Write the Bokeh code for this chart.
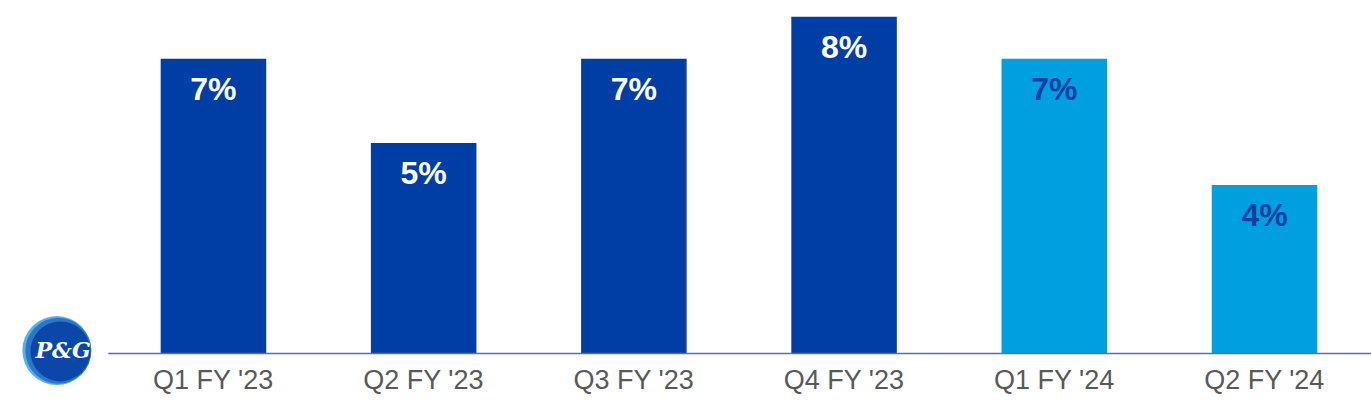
from bokeh.plotting import figure
from bokeh.models import ColumnDataSource, Range1d
from bokeh.core.properties import value
from bokeh.embed import file_html
from bokeh.resources import INLINE

quarters = ["Q1 FY '23", "Q2 FY '23", "Q3 FY '23", "Q4 FY '23", "Q1 FY '24", "Q2 FY '24"]
growth = [7, 5, 7, 8, 7, 4]
labels = ["7%", "5%", "7%", "8%", "7%", "4%"]

DARK = "#003DA5"
LIGHT = "#009FDF"
bar_colors = [DARK, DARK, DARK, DARK, LIGHT, LIGHT]
label_colors = ["#FFFFFF", "#FFFFFF", "#FFFFFF", "#FFFFFF", "#0B3FA6", "#0B3FA6"]

xs = list(range(len(quarters)))
src = ColumnDataSource(dict(x=xs, top=growth, lab=labels, cat=quarters,
                            fill=bar_colors, tcol=label_colors, zero=[0] * len(xs)))

p = figure(width=1371, height=403, output_backend="svg", toolbar_location=None,
           x_range=Range1d(-1.013, 5.509), y_range=Range1d(-1.188, 8.385),
           min_border=0, min_border_left=0, min_border_right=0,
           min_border_top=0, min_border_bottom=0)
p.xaxis.visible = False
p.yaxis.visible = False
p.grid.visible = False
p.outline_line_color = None
p.background_fill_color = "white"
p.border_fill_color = "white"

p.vbar(x="x", top="top", bottom=0, width=0.502, fill_color="fill", line_color=None, source=src)

# baseline
p.segment(x0=[-0.5], y0=[0], x1=[5.509], y1=[0], line_color="#5A6EA8", line_width=1.3)

# value labels
p.text(x="x", y="top", text="lab", text_color="tcol", source=src,
       text_font=value("Liberation Sans"), text_font_style="bold",
       text_font_size="32px", text_align="center", text_baseline="middle", y_offset=30)

# category labels
p.text(x="x", y="zero", text="cat", source=src, text_color="#595959",
       text_font=value("Liberation Sans"), text_font_size="27px",
       text_align="center", text_baseline="middle", y_offset=27)

# P&G logo (decoration)
p.scatter(x=[-0.745], y=[0.07], size=69, marker="circle", fill_color="#5AB0E8", line_color=None)
p.scatter(x=[-0.738], y=[0.065], size=66, marker="circle", fill_color="#2C76C9", line_color=None)
p.scatter(x=[-0.728], y=[0.05], size=60, marker="circle", fill_color="#0A47A8", line_color=None)
p.text(x=[-0.715], y=[0.08], text=["P&G"], text_color="white",
       text_font=value("DejaVu Serif"), text_font_style="bold italic",
       text_font_size="22px", text_align="center", text_baseline="middle")

open("out.html", "w").write(file_html(p, INLINE))
